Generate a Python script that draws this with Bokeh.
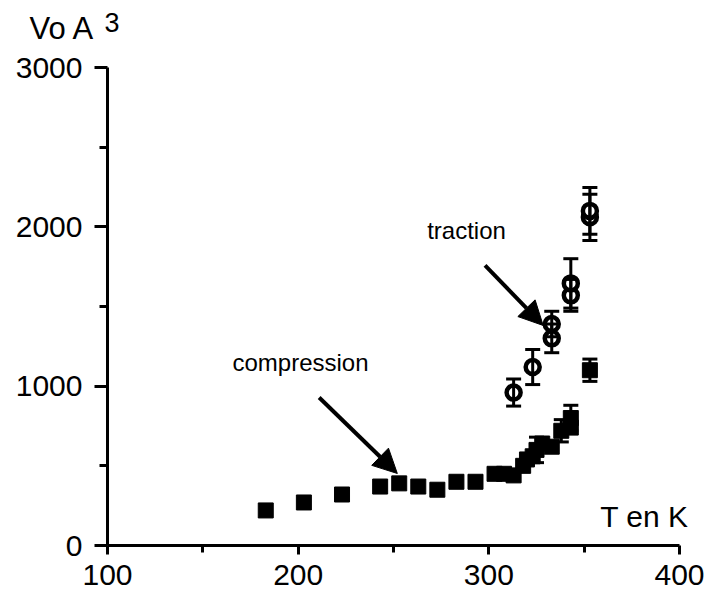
from bokeh.plotting import figure
from bokeh.models import (ColumnDataSource, Whisker, TeeHead, Arrow, NormalHead,
                          FixedTicker, Label)
from bokeh.embed import file_html
from bokeh.resources import INLINE

# ---- data ----
comp_T = [183, 203, 223, 243, 253, 263, 273, 283, 293, 303, 308, 313, 318, 320,
          323, 325, 328, 333, 338, 343, 343, 353]
comp_V = [220, 270, 320, 370, 390, 370, 350, 400, 400, 450, 450, 440, 500, 540,
          560, 600, 640, 620, 720, 740, 800, 1100]
comp_err = [0, 0, 0, 0, 0, 0, 0, 0, 0, 0, 0, 0, 0, 0,
            0, 80, 0, 0, 70, 0, 80, 70]

trac_T = [313, 323, 333, 333, 343, 343, 353, 353]
trac_V = [960, 1120, 1300, 1390, 1570, 1645, 2060, 2100]
trac_err = [85, 110, 90, 80, 100, 155, 145, 147]

x_ticks = [100, 200, 300, 400]
x_minor = [150, 250, 350]
y_ticks = [0, 1000, 2000, 3000]
y_minor = [500, 1500, 2500]

FONT = "Liberation Sans"
W, H = 708, 605
# pixel placement of the axes box
PX0, PX1 = 107, 679      # x=100, x=400
PY0, PY1 = 545, 67       # y=0,   y=3000
sx = (PX1 - PX0) / 300.0
sy = (PY0 - PY1) / 3000.0
x_start = 100 - PX0 / sx
x_end = 400 + (W - PX1) / sx
y_start = 0 - (H - PY0) / sy
y_end = 3000 + PY1 / sy

def dx(px):
    return 100 + (px - PX0) / sx

def dy(py):
    return (PY0 - py) / sy

p = figure(width=W, height=H, x_range=(x_start, x_end), y_range=(y_start, y_end),
           output_backend="svg", toolbar_location=None,
           min_border=0, min_border_left=0, min_border_right=0,
           min_border_top=0, min_border_bottom=0)
p.outline_line_color = None
p.xgrid.visible = False
p.ygrid.visible = False
p.background_fill_color = "white"
p.border_fill_color = "white"

for ax in (p.xaxis[0], p.yaxis[0]):
    ax.axis_line_width = 3
    ax.axis_line_color = "black"
    ax.major_tick_line_width = 3
    ax.minor_tick_line_width = 3
    ax.major_tick_line_color = "black"
    ax.minor_tick_line_color = "black"
    ax.major_label_text_font = FONT
    ax.major_label_text_font_size = "30px"
    ax.major_label_text_color = "black"

p.xaxis.ticker = FixedTicker(ticks=x_ticks, minor_ticks=x_minor)
p.yaxis.ticker = FixedTicker(ticks=y_ticks, minor_ticks=y_minor)
p.xaxis.bounds = (100, 400)
p.yaxis.bounds = (0, 3000)
p.xaxis.fixed_location = 0
p.yaxis.fixed_location = 100
p.xaxis.major_tick_in = 0
p.xaxis.major_tick_out = 9
p.xaxis.minor_tick_in = 0
p.xaxis.minor_tick_out = 7
p.xaxis.major_label_standoff = 10
p.yaxis.major_tick_in = 0
p.yaxis.major_tick_out = 13
p.yaxis.minor_tick_in = 0
p.yaxis.minor_tick_out = 8
p.yaxis.major_label_standoff = 12

# compression series
csrc = ColumnDataSource(dict(T=comp_T, V=comp_V))
p.scatter("T", "V", source=csrc, marker="square", size=15,
          fill_color="black", line_color="black")
ce = [(t, v, e) for t, v, e in zip(comp_T, comp_V, comp_err) if e > 0]
cesrc = ColumnDataSource(dict(T=[a[0] for a in ce],
                              up=[a[1] + a[2] for a in ce],
                              lo=[a[1] - a[2] for a in ce]))
p.add_layout(Whisker(source=cesrc, base="T", upper="up", lower="lo",
                     line_width=3, line_color="black",
                     upper_head=TeeHead(size=15, line_width=3),
                     lower_head=TeeHead(size=15, line_width=3)))

# traction series
tsrc = ColumnDataSource(dict(T=trac_T, V=trac_V))
p.scatter("T", "V", source=tsrc, marker="circle", size=14,
          fill_color="white", line_color="black", line_width=4.5)
tesrc = ColumnDataSource(dict(T=trac_T,
                              up=[v + e for v, e in zip(trac_V, trac_err)],
                              lo=[v - e for v, e in zip(trac_V, trac_err)]))
p.add_layout(Whisker(source=tesrc, base="T", upper="up", lower="lo",
                     line_width=3, line_color="black", level="overlay",
                     upper_head=TeeHead(size=15, line_width=3),
                     lower_head=TeeHead(size=15, line_width=3)))

# arrows
p.add_layout(Arrow(x_start=211, y_start=929, x_end=252, y_end=452,
                   line_width=4, line_color="black",
                   end=NormalHead(size=24, fill_color="black", line_color="black")))
p.add_layout(Arrow(x_start=298, y_start=1758, x_end=328.5, y_end=1381,
                   line_width=4, line_color="black",
                   end=NormalHead(size=24, fill_color="black", line_color="black")))

# annotations placed by pixel position
def lab(px, py, text, size, align="center"):
    p.add_layout(Label(x=dx(px), y=dy(py), text=text, text_font=FONT,
                       text_font_size=size, text_color="black",
                       text_align=align, text_baseline="middle"))

lab(300, 362, "compression", "24px")
lab(466, 230, "traction", "24px")
lab(688, 516, "T en K", "30px", "right")
lab(29, 28, "Vo A", "31px", "left")
lab(104, 22, "3", "27px", "left")

open("out.html", "w").write(file_html(p, INLINE))
